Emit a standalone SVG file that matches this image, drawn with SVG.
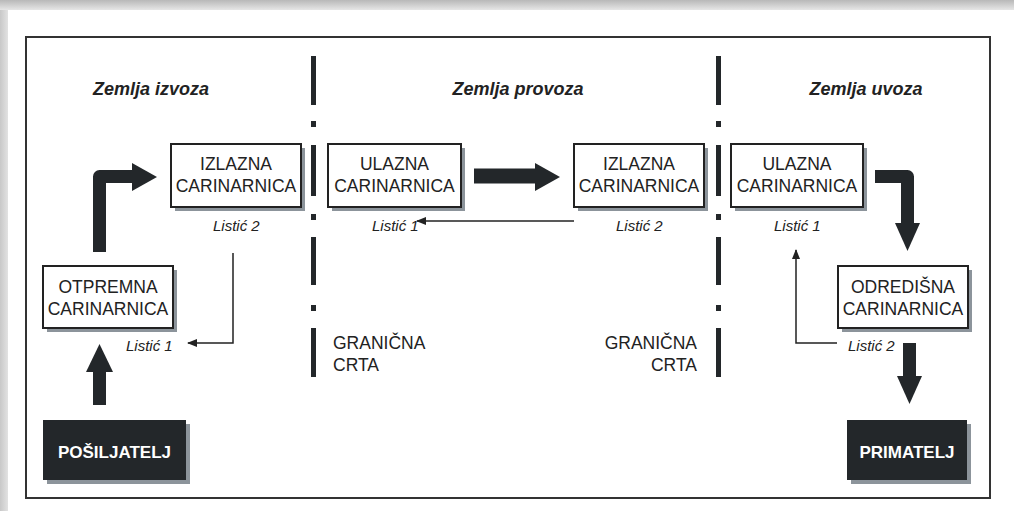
<svg xmlns="http://www.w3.org/2000/svg" width="1014" height="511" viewBox="0 0 1014 511">
<defs>
<linearGradient id="gt" x1="0" y1="0" x2="0" y2="1"><stop offset="0" stop-color="#b8b8b8"/><stop offset="1" stop-color="#e6e6e6"/></linearGradient>
<linearGradient id="gl" x1="0" y1="0" x2="1" y2="0"><stop offset="0" stop-color="#c8c8c8"/><stop offset="1" stop-color="#e2e2e2"/></linearGradient>
<marker id="ah" viewBox="0 0 10 10" refX="9" refY="5" markerWidth="10" markerHeight="10" markerUnits="userSpaceOnUse" orient="auto"><path d="M0,1 L10,5 L0,9 Z" fill="#222"/></marker>
</defs>
<style>
.box{fill:#fff;stroke:#222;stroke-width:2}
.sh{fill:#8c949b}
.dark{fill:#23272a}
.bt{font-family:"Liberation Sans",Arial,sans-serif;font-size:17.5px;fill:#222;text-anchor:middle}
.wt{font-family:"Liberation Sans",Arial,sans-serif;font-size:17px;font-weight:bold;fill:#fff;text-anchor:middle}
.tt{font-family:"Liberation Sans",Arial,sans-serif;font-size:18px;font-weight:bold;font-style:italic;fill:#222;text-anchor:middle}
.li{font-family:"Liberation Sans",Arial,sans-serif;font-size:15px;font-style:italic;fill:#222}
.gc{font-family:"Liberation Sans",Arial,sans-serif;font-size:17.5px;fill:#222}
.thin{fill:none;stroke:#222;stroke-width:1.5}
.thick{fill:none;stroke:#23272a;stroke-width:13;stroke-linejoin:round}
.div{fill:#23272a}
</style>
<rect x="0" y="0" width="1014" height="511" fill="#fff"/>
<rect x="0" y="0" width="1014" height="10" fill="url(#gt)"/>
<rect x="0" y="10" width="8" height="501" fill="url(#gl)"/>
<rect x="26" y="37" width="964" height="461" fill="none" stroke="#333" stroke-width="2"/>

<g id="dividers">
<rect class="div" x="311" y="56" width="5" height="49"/>
<rect class="div" x="311" y="121" width="5" height="6"/>
<rect class="div" x="311" y="145" width="5" height="51"/>
<rect class="div" x="311" y="214" width="5" height="6"/>
<rect class="div" x="311" y="237" width="5" height="48"/>
<rect class="div" x="311" y="305" width="5" height="6"/>
<rect class="div" x="311" y="328" width="5" height="49"/>
<rect class="div" x="716" y="56" width="5" height="49"/>
<rect class="div" x="716" y="121" width="5" height="6"/>
<rect class="div" x="716" y="145" width="5" height="51"/>
<rect class="div" x="716" y="214" width="5" height="6"/>
<rect class="div" x="716" y="237" width="5" height="48"/>
<rect class="div" x="716" y="305" width="5" height="6"/>
<rect class="div" x="716" y="328" width="5" height="49"/>
</g>

<g id="titles">
<text class="tt" x="151" y="95">Zemlja izvoza</text>
<text class="tt" x="518" y="95">Zemlja provoza</text>
<text class="tt" x="866" y="95">Zemlja uvoza</text>
</g>

<g id="granicna-left">
<text class="gc" x="333" y="349">GRANIČNA</text>
<text class="gc" x="333" y="371">CRTA</text>
</g>
<g id="granicna-right">
<text class="gc" x="697" y="349" text-anchor="end">GRANIČNA</text>
<text class="gc" x="697" y="371" text-anchor="end">CRTA</text>
</g>

<g id="connectors">
<path class="thick" d="M99.5,252 V176.5 H133"/>
<path class="dark" d="M132,163 L157,177 L132,191 Z"/>
<rect class="dark" x="93" y="371" width="13" height="34"/>
<path class="dark" d="M86,372 L99.5,344 L113,372 Z"/>
<rect class="dark" x="474" y="168.5" width="62" height="15"/>
<path class="dark" d="M535,163 L560,177 L535,191 Z"/>
<path class="thick" d="M875,176.5 H907.5 V224"/>
<path class="dark" d="M895,223 L907.5,251 L920,223 Z"/>
<rect class="dark" x="903" y="343" width="13" height="34"/>
<path class="dark" d="M897,376 L909.5,404 L922,376 Z"/>
<path class="thin" d="M233,253 V343 H188" marker-end="url(#ah)"/>
<path class="thin" d="M574,221 H417" marker-end="url(#ah)"/>
<path class="thin" d="M837,343 H796 V250" marker-end="url(#ah)"/>
</g>

<g id="izlazna-1">
<rect class="sh" x="175" y="148" width="130" height="63"/>
<rect class="box" x="171" y="144" width="130" height="63"/>
<text class="bt" x="236" y="170">IZLAZNA</text>
<text class="bt" x="236" y="192">CARINARNICA</text>
<text class="li" x="213" y="231">Listić 2</text>
</g>
<g id="ulazna-1">
<rect class="sh" x="332" y="148" width="133" height="63"/>
<rect class="box" x="328" y="144" width="133" height="63"/>
<text class="bt" x="394.5" y="170">ULAZNA</text>
<text class="bt" x="394.5" y="192">CARINARNICA</text>
<text class="li" x="372" y="231">Listić 1</text>
</g>
<g id="izlazna-2">
<rect class="sh" x="578" y="148" width="130" height="63"/>
<rect class="box" x="574" y="144" width="130" height="63"/>
<text class="bt" x="639" y="170">IZLAZNA</text>
<text class="bt" x="639" y="192">CARINARNICA</text>
<text class="li" x="616" y="231">Listić 2</text>
</g>
<g id="ulazna-2">
<rect class="sh" x="735" y="148" width="132" height="63"/>
<rect class="box" x="731" y="144" width="132" height="63"/>
<text class="bt" x="797" y="170">ULAZNA</text>
<text class="bt" x="797" y="192">CARINARNICA</text>
<text class="li" x="774" y="231">Listić 1</text>
</g>
<g id="otpremna">
<rect class="sh" x="47" y="270" width="130" height="62"/>
<rect class="box" x="43" y="266" width="130" height="62"/>
<text class="bt" x="108" y="293">OTPREMNA</text>
<text class="bt" x="108" y="315">CARINARNICA</text>
<text class="li" x="126" y="351">Listić 1</text>
</g>
<g id="odredisna">
<rect class="sh" x="842" y="270" width="130" height="62"/>
<rect class="box" x="838" y="266" width="130" height="62"/>
<text class="bt" x="903" y="293">ODREDIŠNA</text>
<text class="bt" x="903" y="315">CARINARNICA</text>
<text class="li" x="848" y="351">Listić 2</text>
</g>
<g id="posiljatelj">
<rect class="sh" x="47" y="424" width="143" height="60"/>
<rect class="dark" x="43" y="420" width="143" height="60"/>
<text class="wt" x="114.5" y="458">POŠILJATELJ</text>
</g>
<g id="primatelj">
<rect class="sh" x="851" y="424" width="120" height="60"/>
<rect class="dark" x="847" y="420" width="120" height="60"/>
<text class="wt" x="907" y="458">PRIMATELJ</text>
</g>
</svg>
